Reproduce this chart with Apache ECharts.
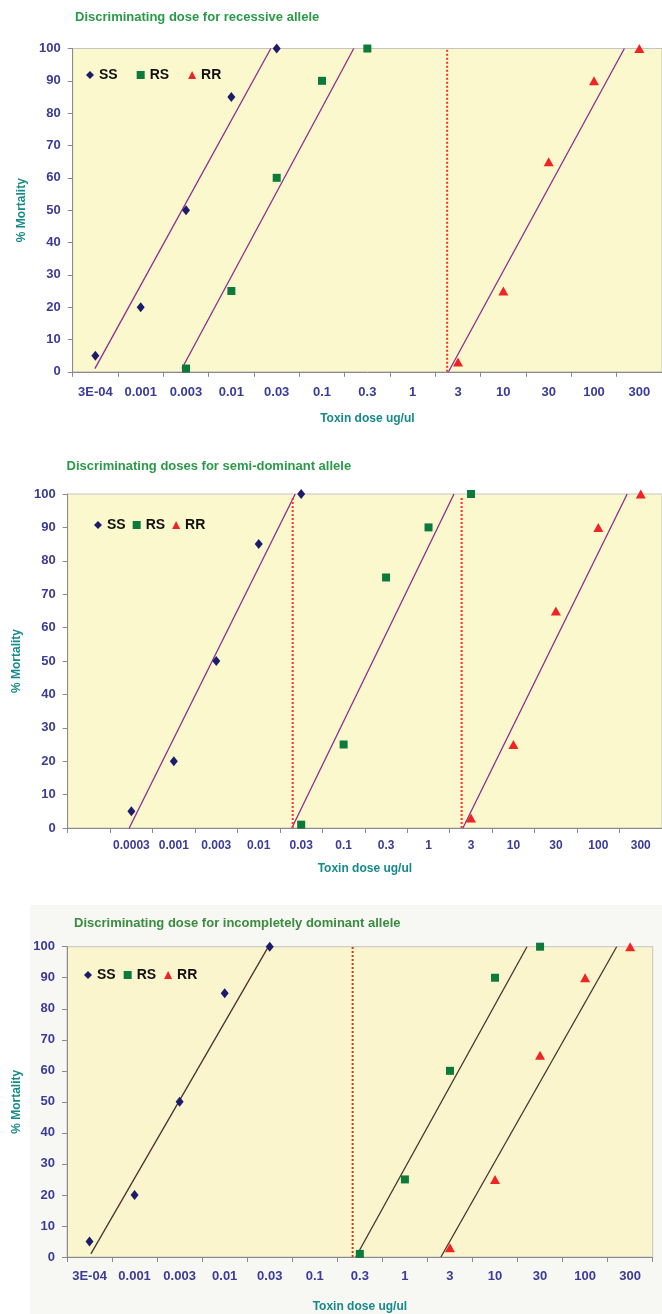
<!DOCTYPE html>
<html>
<head>
<meta charset="utf-8">
<script src="https://cdn.jsdelivr.net/npm/echarts@6/dist/echarts.min.js"></script>
<style>
html,body{margin:0;padding:0;background:#fff;}
#c{width:662px;height:1314px;}
</style>
</head>
<body>
<div id="c"></div>
<script>
// ---------- data ----------
const titles = [
  'Discriminating dose for recessive allele',
  'Discriminating doses for semi-dominant allele',
  'Discriminating dose for incompletely dominant allele'
];
const xTitle = 'Toxin dose ug/ul';
const yTitle = '% Mortality';
const cats1 = ['3E-04','0.001','0.003','0.01','0.03','0.1','0.3','1','3','10','30','100','300'];
const cats2 = ['','0.0003','0.001','0.003','0.01','0.03','0.1','0.3','1','3','10','30','100','300'];
const cats3 = ['3E-04','0.001','0.003','0.01','0.03','0.1','0.3','1','3','10','30','100','300'];

// panel 1 points
const p1SSdose = ['3E-04','0.001','0.003','0.01','0.03'];
const p1SS     = [5, 20, 50, 85, 100];
const p1RSdose = ['0.003','0.01','0.03','0.1','0.3'];
const p1RS     = [1, 25, 60, 90, 100];
const p1RRdose = ['3','10','30','100','300'];
const p1RR     = [3, 25, 65, 90, 100];
// panel 2 points
const p2SSdose = ['0.0003','0.001','0.003','0.01','0.03'];
const p2SS     = [5, 20, 50, 85, 100];
const p2RSdose = ['0.03','0.1','0.3','1','3'];
const p2RS     = [1, 25, 75, 90, 100];
const p2RRdose = ['3','10','30','100','300'];
const p2RR     = [3, 25, 65, 90, 100];
// panel 3 points
const p3SSdose = ['3E-04','0.001','0.003','0.01','0.03'];
const p3SS     = [5, 20, 50, 85, 100];
const p3RSdose = ['0.3','1','3','10','30'];
const p3RS     = [1, 25, 60, 90, 100];
const p3RRdose = ['3','10','30','100','300'];
const p3RR     = [3, 25, 65, 90, 100];

// fitted lines: [axis position in category units, mortality]
const p1FitSS = [[0.49, 1], [4.37, 100]];
const p1FitRS = [[2.41, 1], [6.20, 100]];
const p1FitRR = [[8.29, 0], [12.17, 100]];
const p1Cut   = [8.26];
const p1CutTop = 100;
const p2FitSS = [[1.45, 0], [5.36, 100]];
const p2FitRS = [[5.28, 0], [9.10, 100]];
const p2FitRR = [[9.31, 0], [13.18, 100]];
const p2Cut   = [5.30, 9.28];
const p2CutTop = 99;
const p3FitSS = [[0.53, 1], [4.47, 100]];
const p3FitRS = [[6.41, 0], [10.21, 100]];
const p3FitRR = [[8.30, 0], [12.20, 100]];
const p3Cut   = [6.34];
const p3CutTop = 100;

// ---------- styles ----------
const FONT = "'Liberation Sans', Arial, sans-serif";
const C_SS = '#1c1c6c', C_RS = '#0b7a3a', C_RR = '#f02424';
const LBL = '#3b3b98';
const TEAL = '#168a8a';

const panels = [
  {cats: cats1, grid: {left: 72.7, top: 48.5, width: 594, height: 323.3},
   pts: [[p1SSdose,p1SS],[p1RSdose,p1RS],[p1RRdose,p1RR]],
   fits: [p1FitSS,p1FitRS,p1FitRR], cuts: p1Cut, cutTop: p1CutTop,
   fitColor: '#8e2d8e', cutColor: '#ff3030',
   title: {left: 70, top: 6, color: '#2a9a48'},
   legend: {left: 86, top: 68, gap: 19},
   xLabel: {size: 13, margin: 14, family: FONT}, xNameGap: 41, yNameGap: 43, bg: '#fcf8cd'},
  {cats: cats2, grid: {left: 67.7, top: 494, width: 600.6, height: 334},
   pts: [[p2SSdose,p2SS],[p2RSdose,p2RS],[p2RRdose,p2RR]],
   fits: [p2FitSS,p2FitRS,p2FitRR], cuts: p2Cut, cutTop: p2CutTop,
   fitColor: '#8e2d8e', cutColor: '#ff3030',
   title: {left: 61.5, top: 455, color: '#2a9a48'},
   legend: {left: 94, top: 518, gap: 7},
   xLabel: {size: 12, margin: 12, family: "'Liberation Sans Narrow', 'Liberation Sans', Arial, sans-serif"}, xNameGap: 35, yNameGap: 44, bg: '#fcf8cd'},
  {cats: cats3, grid: {left: 67, top: 946.7, width: 585.7, height: 315.6},
   pts: [[p3SSdose,p3SS],[p3RSdose,p3RS],[p3RRdose,p3RR]],
   fits: [p3FitSS,p3FitRS,p3FitRR], cuts: p3Cut, cutTop: p3CutTop,
   fitColor: '#4a3232', cutColor: '#c8401e',
   title: {left: 69, top: 912, color: '#3a8c3e'},
   legend: {left: 84, top: 968, gap: 8},
   xLabel: {size: 13, margin: 13, family: FONT}, xNameGap: 44, yNameGap: 42, bg: '#faf5cc'}
];

const names = ['SS','RS','RR'];
const colors = [C_SS, C_RS, C_RR];
const symbols = ['diamond','rect','triangle'];
const symSizes = [[8,10],[8,8],[10,9]];

const option = {
  animation: false,
  backgroundColor: '#ffffff',
  title: [], legend: [], grid: [], xAxis: [], yAxis: [], series: [],
  graphic: [{type: 'rect', z: -100, shape: {x: 30, y: 905, width: 632, height: 409}, style: {fill: '#f7f7f3'}}]
};

panels.forEach((p, k) => {
  option.title.push({text: titles[k], left: p.title.left, top: p.title.top,
    textStyle: {fontFamily: FONT, fontSize: 13, fontWeight: 'bold', color: p.title.color}});
  option.legend.push({
    data: names.map((n, i) => ({name: n, icon: symbols[i]})),
    left: p.legend.left, top: p.legend.top, itemWidth: 8, itemHeight: 8, itemGap: p.legend.gap,
    selectedMode: false, padding: 0,
    textStyle: {fontFamily: FONT, fontSize: 14, fontWeight: 'bold', color: '#111'}
  });
  option.grid.push(Object.assign({show: true, backgroundColor: p.bg, borderColor: '#c4c4c4', borderWidth: 1}, p.grid));
  option.xAxis.push({
    type: 'category', gridIndex: k, data: p.cats, boundaryGap: true,
    name: xTitle, nameLocation: 'middle', nameGap: p.xNameGap,
    nameTextStyle: {fontFamily: FONT, fontSize: 12, fontWeight: 'bold', color: TEAL},
    axisLine: {lineStyle: {color: '#8a8a8a', width: 1}},
    axisTick: {show: true, length: 5, lineStyle: {color: '#8a8a8a'}},
    axisLabel: {interval: 0, margin: p.xLabel.margin, fontFamily: p.xLabel.family, fontSize: p.xLabel.size, fontWeight: 'bold', color: LBL},
    splitLine: {show: false}
  });
  option.xAxis.push({type: 'value', gridIndex: k, min: 0, max: p.cats.length, show: false});
  option.yAxis.push({
    type: 'value', gridIndex: k, min: 0, max: 100, interval: 10,
    name: yTitle, nameLocation: 'middle', nameGap: p.yNameGap, nameRotate: 90,
    nameTextStyle: {fontFamily: FONT, fontSize: 12, fontWeight: 'bold', color: TEAL},
    axisLine: {show: true, lineStyle: {color: '#8a8a8a', width: 1}},
    axisTick: {show: true, length: 5, lineStyle: {color: '#8a8a8a'}},
    axisLabel: {margin: 12, fontFamily: FONT, fontSize: 13, fontWeight: 'bold', color: LBL},
    splitLine: {show: false}
  });
  // fitted lines
  p.fits.forEach(f => {
    option.series.push({type: 'line', xAxisIndex: 2*k+1, yAxisIndex: k, data: f,
      symbol: 'none', silent: true, z: 2, lineStyle: {color: p.fitColor, width: 1.3}});
  });
  // cut-off dotted lines
  p.cuts.forEach(c => {
    option.series.push({type: 'line', xAxisIndex: 2*k+1, yAxisIndex: k, data: [[c, 0], [c, p.cutTop]],
      symbol: 'none', silent: true, z: 2, lineStyle: {color: p.cutColor, width: 2, type: [2, 2]}});
  });
  // points
  p.pts.forEach((pt, i) => {
    option.series.push({type: 'scatter', name: names[i], xAxisIndex: 2*k, yAxisIndex: k,
      data: pt[0].map((d, j) => [d, pt[1][j]]),
      symbol: symbols[i], symbolSize: symSizes[i], z: 3,
      itemStyle: {color: colors[i], opacity: 1}});
  });
});

const chart = echarts.init(document.getElementById('c'), null, {renderer: 'canvas'});
chart.setOption(option);
</script>
</body>
</html>
